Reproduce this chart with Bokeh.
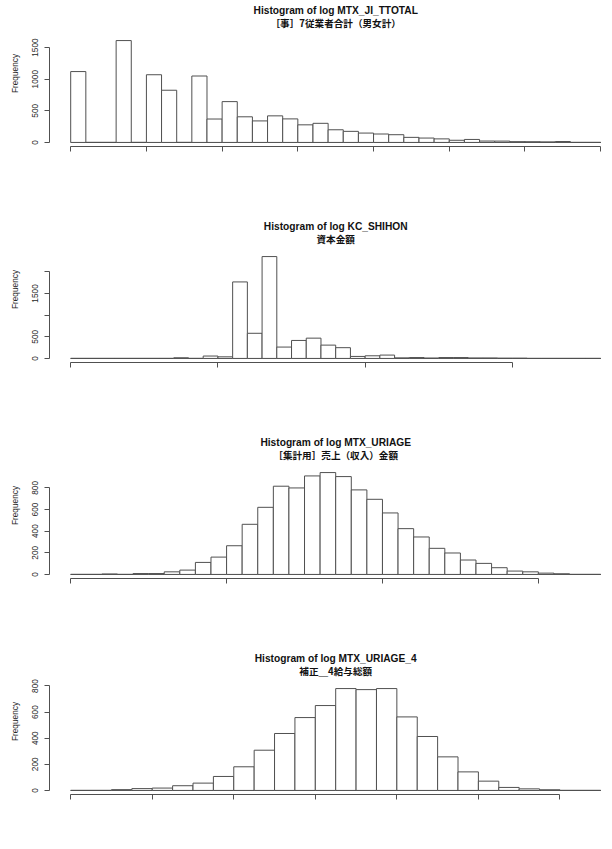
from bokeh.plotting import figure
from bokeh.layouts import column
from bokeh.models import Range1d, FixedTicker, LinearAxis
from bokeh.core.properties import value
from bokeh.embed import file_html
from bokeh.resources import INLINE

# ---- data -------------------------------------------------------------
titles = [
    "Histogram of log MTX_JI_TTOTAL",
    "Histogram of log KC_SHIHON",
    "Histogram of log MTX_URIAGE",
    "Histogram of log MTX_URIAGE_4",
]
subtitles = [
    "［事］7従業者合計（男女計）",
    "資本金額",
    "［集計用］売上（収入）金額",
    "補正＿4給与総額",
]

# log employees: breaks 0 .. 7 by 0.2
ttotal_start, ttotal_width = 0.0, 0.2
ttotal_counts = [1120, 0, 0, 1610, 0, 1070, 825, 0, 1050, 370,
                 645, 405, 340, 420, 372, 278, 302, 200, 175, 148,
                 133, 122, 80, 69, 56, 34, 47, 22, 21, 12,
                 11, 8, 14, 0, 0]
ttotal_xticks = [0, 1, 2, 3, 4, 5, 6, 7]
ttotal_yticks = [0, 500, 1000, 1500]
ttotal_ylabels = ["0", "500", "1000", "1500"]

# log capital: breaks 0 .. 18 by 0.5
shihon_start, shihon_width = 0.0, 0.5
shihon_counts = [0, 0, 0, 0, 0, 0, 0, 15, 0, 55,
                 37, 1765, 580, 2350, 262, 415, 468, 307, 248, 46,
                 61, 77, 12, 20, 8, 20, 20, 10, 10, 5,
                 5, 0, 0, 0, 0, 0]
shihon_xticks = [0, 5, 10, 15]
shihon_yticks = [0, 500, 1000, 1500, 2000]
shihon_ylabels = ["0", "500", "", "1500", ""]

# log sales: breaks 0 .. 17 by 0.5
uriage_start, uriage_width = 0.0, 0.5
uriage_counts = [0, 0, 4, 0, 8, 8, 24, 40, 111, 160,
                 265, 463, 620, 815, 799, 910, 941, 904, 781, 694,
                 568, 423, 346, 241, 198, 133, 102, 62, 31, 24,
                 12, 6, 0, 0]
uriage_xticks = [0, 5, 10, 15]
uriage_yticks = [0, 200, 400, 600, 800]
uriage_ylabels = ["0", "200", "400", "600", "800"]

# log payroll: breaks 0 .. 13 by 0.5
uriage4_start, uriage4_width = 0.0, 0.5
uriage4_counts = [0, 0, 6, 14, 18, 36, 56, 107, 181, 308,
                  436, 558, 650, 780, 772, 780, 563, 413, 257, 142,
                  71, 23, 12, 5, 0, 0]
uriage4_xticks = [0, 2, 4, 6, 8, 10, 12]
uriage4_yticks = [0, 200, 400, 600, 800]
uriage4_ylabels = ["0", "200", "400", "600", "800"]

# ---- layout -----------------------------------------------------------
PAGE_W = 612
LEFT = 49            # y axis sits on the left edge of the plot region
REGION_W = 572.4     # full width of the plot region (runs past the page edge)
REGION_H = 110       # plot region height: -4% .. 104% of the tallest bar
FRAME_H = 146        # frame from panel top down to the x axis line
FONT = "Liberation Sans"
LINE = "#505050"
TEXT = "#262626"


def histogram(title, subtitle, start, width, counts, xticks, yticks, ylabels, height):
    n = len(counts)
    lefts = [start + i * width for i in range(n)]
    rights = [lo + width for lo in lefts]
    xmin, xmax = lefts[0], rights[-1]
    span = xmax - xmin
    ppu = REGION_W / (1.08 * span)
    x0 = xmin - 0.04 * span
    x1 = x0 + (PAGE_W - LEFT) / ppu

    top = max(counts)
    dpp = 1.08 * top / REGION_H
    y0 = -0.04 * top
    y1 = y0 + FRAME_H * dpp

    p = figure(width=PAGE_W, height=height,
               x_range=Range1d(x0, x1), y_range=Range1d(y0, y1),
               x_axis_type=None, y_axis_type=None,
               output_backend="svg", toolbar_location=None,
               min_border_left=LEFT, min_border_right=0,
               min_border_top=0, min_border_bottom=height - FRAME_H)
    p.outline_line_color = None
    p.background_fill_color = "white"
    p.border_fill_color = "white"
    p.grid.visible = False

    # bars, with the zero line beneath empty bins
    p.segment(x0=[xmin], y0=[0], x1=[xmax], y1=[0], line_color=LINE, line_width=1)
    p.quad(left=lefts, right=rights, bottom=0, top=counts,
           fill_color="white", line_color=LINE, line_width=1)

    xaxis = LinearAxis(ticker=FixedTicker(ticks=xticks),
                       bounds=(xticks[0], xticks[-1]),
                       major_label_overrides={t: "" for t in xticks})
    xaxis.axis_line_color = LINE
    xaxis.major_tick_line_color = LINE
    xaxis.major_tick_out = 5
    xaxis.major_tick_in = 0
    xaxis.minor_tick_line_color = None
    xaxis.major_label_text_font_size = "8px"
    p.add_layout(xaxis, "below")

    yaxis = LinearAxis(ticker=FixedTicker(ticks=yticks),
                       bounds=(yticks[0], yticks[-1]),
                       major_label_overrides=dict(zip(yticks, ylabels)),
                       axis_label="Frequency")
    yaxis.axis_line_color = LINE
    yaxis.major_tick_line_color = LINE
    yaxis.major_tick_out = 5
    yaxis.major_tick_in = 0
    yaxis.minor_tick_line_color = None
    yaxis.major_label_orientation = "vertical"
    yaxis.major_label_standoff = 6
    yaxis.major_label_text_font = FONT
    yaxis.major_label_text_font_size = "8.3px"
    yaxis.major_label_text_color = TEXT
    yaxis.axis_label_standoff = 10
    yaxis.axis_label_text_font = FONT
    yaxis.axis_label_text_font_size = "8.3px"
    yaxis.axis_label_text_font_style = "normal"
    yaxis.axis_label_text_color = TEXT
    p.add_layout(yaxis, "left")

    xc = (xmin + xmax) / 2
    p.text(x=[xc], y=[y1 - 10 * dpp], text=[title],
           text_align="center", text_baseline="middle",
           text_font=value(FONT), text_font_style="bold",
           text_font_size="10.2px", text_color="#111111")
    p.text(x=[xc], y=[y1 - 22.8 * dpp], text=[subtitle],
           text_align="center", text_baseline="middle",
           text_font=value("Noto Sans CJK JP"), text_font_style="bold",
           text_font_size="9.6px", text_color="#111111")
    return p


p1 = histogram(titles[0], subtitles[0], ttotal_start, ttotal_width, ttotal_counts,
               ttotal_xticks, ttotal_yticks, ttotal_ylabels, 216)
p2 = histogram(titles[1], subtitles[1], shihon_start, shihon_width, shihon_counts,
               shihon_xticks, shihon_yticks, shihon_ylabels, 216)
p3 = histogram(titles[2], subtitles[2], uriage_start, uriage_width, uriage_counts,
               uriage_xticks, uriage_yticks, uriage_ylabels, 216)
p4 = histogram(titles[3], subtitles[3], uriage4_start, uriage4_width, uriage4_counts,
               uriage4_xticks, uriage4_yticks, uriage4_ylabels, 201)

page = column(p1, p2, p3, p4, spacing=0)

with open("out.html", "w") as f:
    f.write(file_html(page, INLINE))
